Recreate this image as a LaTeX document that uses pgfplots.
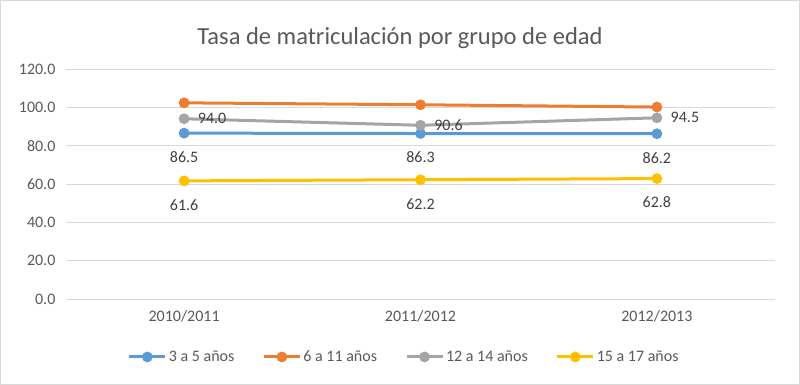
\documentclass[border=0pt]{standalone}
\usepackage{pgfplots}
\pgfplotsset{compat=1.18}
\usepackage{fontspec}
\setmainfont{Carlito}
\definecolor{cblue}{HTML}{5B9BD5}
\definecolor{corange}{HTML}{ED7D31}
\definecolor{cgray}{HTML}{A5A5A5}
\definecolor{cyellow}{HTML}{FFC000}
\definecolor{tgray}{HTML}{595959}
\definecolor{lgray}{HTML}{404040}
\definecolor{gridc}{HTML}{D9D9D9}
\begin{document}
\begin{tikzpicture}[x=1pt,y=1pt]
\draw[color=gridc, line width=0.8pt] (0.5,0.5) rectangle (799.5,384.5);
\node[font=\fontsize{24.5}{28}\selectfont, text=tgray] at (400,347) {Tasa de matriculación por grupo de edad};
\begin{axis}[at={(66pt,86pt)}, anchor=south west, scale only axis,
  width=709pt, height=230pt,
  xmin=-0.5, xmax=2.5, ymin=0, ymax=120,
  ytick={0,20,...,120}, xtick={0,1,2},
  xticklabels={2010/2011,2011/2012,2012/2013},
  axis line style={draw=none}, ymajorgrids,
  grid style={color=gridc, line width=0.8pt},
  major tick length=0pt,
  yticklabel={\pgfmathprintnumber[fixed,fixed zerofill,precision=1,assume math mode=true]{\tick}},
  tick label style={font=\fontsize{16}{19}\selectfont, text=tgray},
  yticklabel style={xshift=-7pt},
  xticklabel style={yshift=-8pt},
  every axis plot/.append style={line width=3pt, mark=*, mark size=3.8pt},
  nodes near coords style={font=\fontsize{16}{19}\selectfont, text=lgray},
  legend columns=4,
  legend style={at={(0.477,-0.252)}, anchor=center, draw=none, fill=none,
    font=\fontsize{16}{19}\selectfont, text=tgray,
    /tikz/every even column/.append style={column sep=26pt}},
  legend image code/.code={\draw[mark repeat=2,mark phase=2,#1] plot coordinates {(0pt,0pt) (18pt,0pt) (36pt,0pt)};},
]
\addplot[color=cblue, mark options={fill=cblue},
  nodes near coords={\pgfmathprintnumber[fixed,fixed zerofill,precision=1,assume math mode=true]{\pgfplotspointmeta}},
  every node near coord/.append style={anchor=center, yshift=-24pt}]
  coordinates {(0,86.5) (1,86.3) (2,86.2)};
\addlegendentry{3 a 5 años}
\addplot[color=corange, mark options={fill=corange}]
  coordinates {(0,102.3) (1,101.3) (2,100.1)};
\addlegendentry{6 a 11 años}
\addplot[color=cgray, mark options={fill=cgray},
  nodes near coords={\pgfmathprintnumber[fixed,fixed zerofill,precision=1,assume math mode=true]{\pgfplotspointmeta}},
  every node near coord/.append style={anchor=west, xshift=9pt, yshift=0pt}]
  coordinates {(0,94.0) (1,90.6) (2,94.5)};
\addlegendentry{12 a 14 años}
\addplot[color=cyellow, mark options={fill=cyellow},
  nodes near coords={\pgfmathprintnumber[fixed,fixed zerofill,precision=1,assume math mode=true]{\pgfplotspointmeta}},
  every node near coord/.append style={anchor=center, yshift=-24pt}]
  coordinates {(0,61.6) (1,62.2) (2,62.8)};
\addlegendentry{15 a 17 años}
\end{axis}
\end{tikzpicture}
\end{document}
